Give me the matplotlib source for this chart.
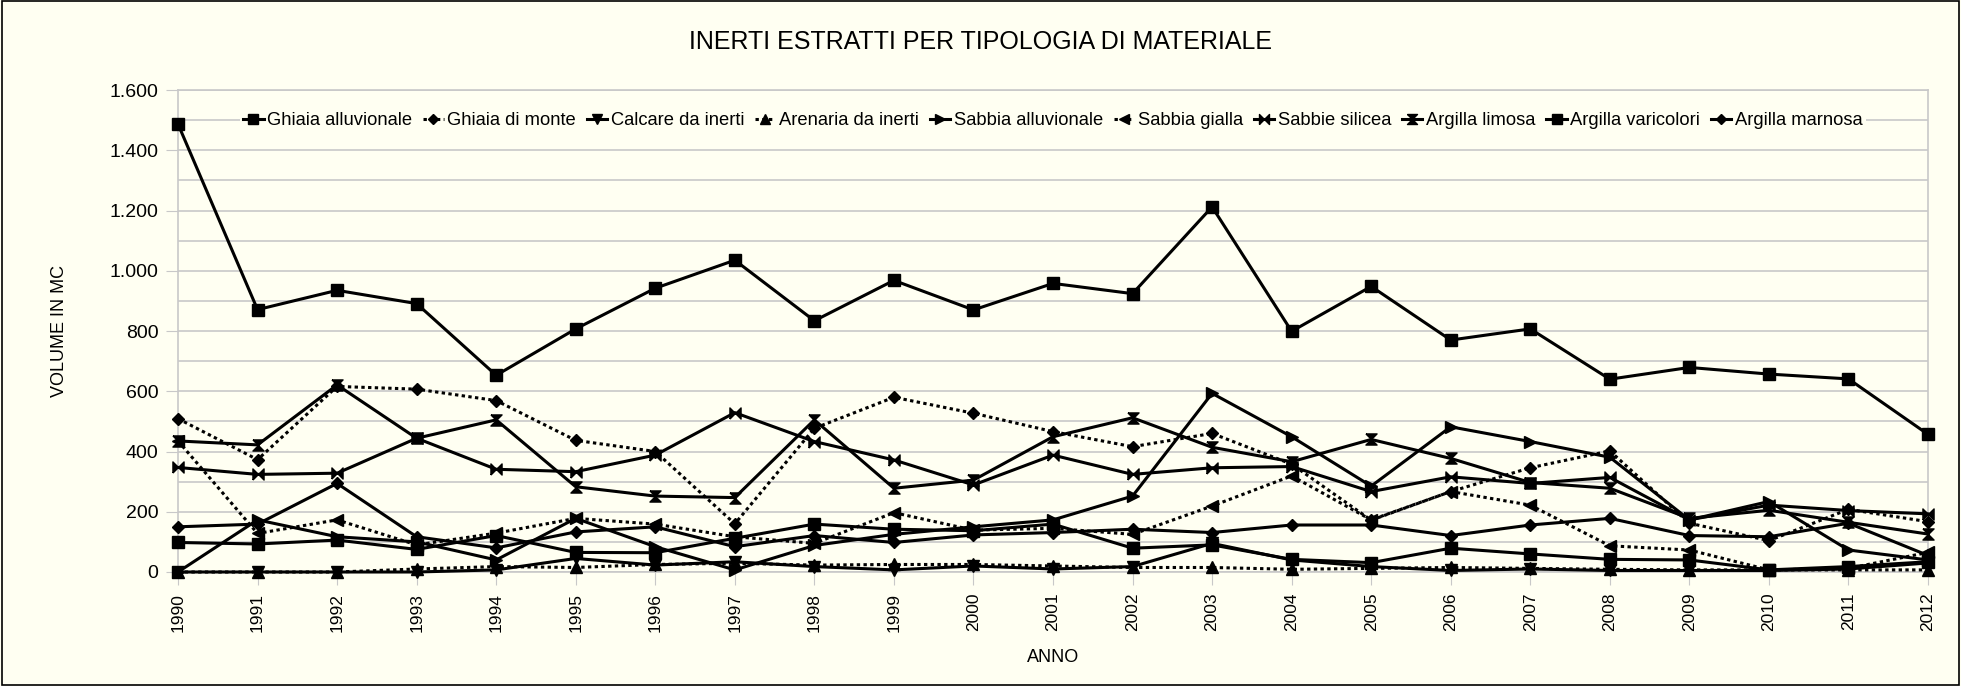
import matplotlib
matplotlib.use("Agg")
import matplotlib.pyplot as plt
from matplotlib.ticker import MultipleLocator, FuncFormatter
from matplotlib.patches import Rectangle

plt.rcParams['font.family'] = ['Liberation Sans', 'DejaVu Sans']

# ---------------------------------- data ----------------------------------
years = list(range(1990, 2013))

ghiaia_alluvionale = [1487, 871, 935, 891, 653, 807, 942, 1035, 834, 968, 870, 958,
                      924, 1212, 799, 948, 770, 807, 640, 679, 657, 641, 457]
ghiaia_monte = [509, 373, 616, 607, 569, 437, 400, 160, 477, 580, 527, 466,
                416, 460, 358, 172, 267, 346, 402, 162, 104, 208, 167]
calcare = [0, 0, 0, 0, 7, 45, 23, 34, 18, 7, 20, 10,
           18, 95, 40, 18, 5, 10, 5, 5, 5, 10, 30]
arenaria = [0, 0, 0, 10, 18, 15, 25, 29, 23, 25, 25, 20,
            15, 15, 9, 12, 15, 12, 9, 7, 7, 7, 7]
sabbia_alluvionale = [0, 173, 117, 100, 40, 178, 84, 7, 88, 125, 150, 173,
                      252, 593, 449, 285, 482, 433, 381, 173, 234, 73, 40]
sabbia_gialla = [435, 128, 173, 90, 129, 178, 159, 117, 95, 197, 139, 145,
                 125, 219, 319, 173, 267, 222, 87, 73, 7, 12, 65]
sabbie_silicea = [347, 324, 328, 444, 341, 333, 388, 529, 433, 372, 289, 388,
                  324, 346, 350, 267, 316, 294, 314, 173, 222, 204, 193]
argilla_limosa = [435, 422, 621, 444, 505, 283, 252, 247, 505, 278, 305, 449,
                  512, 414, 366, 440, 377, 297, 278, 178, 205, 165, 126]
argilla_varicolori = [98, 93, 106, 75, 121, 65, 64, 112, 159, 142, 137, 159,
                      79, 90, 42, 31, 79, 60, 42, 40, 7, 18, 34]
argilla_marnosa = [150, 159, 294, 117, 80, 133, 150, 84, 121, 98, 123, 131,
                   142, 131, 156, 156, 121, 156, 178, 121, 117, 162, 55]

labels = ["Ghiaia alluvionale", "Ghiaia di monte", "Calcare da inerti",
          "Arenaria da inerti", "Sabbia alluvionale", "Sabbia gialla",
          "Sabbie silicea", "Argilla limosa", "Argilla varicolori", "Argilla marnosa"]
series = [ghiaia_alluvionale, ghiaia_monte, calcare, arenaria, sabbia_alluvionale,
          sabbia_gialla, sabbie_silicea, argilla_limosa, argilla_varicolori, argilla_marnosa]

# custom markers: bow tie and hourglass
bowtie = [(-1, -1), (-1, 1), (1, -1), (1, 1), (-1, -1)]
hourglass = [(-1, 1), (1, 1), (-1, -1), (1, -1), (-1, 1)]

dotted = (0, (1.1, 1.1))
markers = ['s', 'D', 'v', '^', '>', '<', bowtie, hourglass, 's', 'D']
styles = ['-', dotted, '-', dotted, '-', dotted, '-', '-', '-', '-']
msizes = [8, 6, 8, 8, 8, 8, 8, 8, 8, 6]

BG = '#fffff2'
GRID = '#c8c8c8'

# ---------------------------------- plot ----------------------------------
fig = plt.figure(figsize=(19.61, 6.86), dpi=100, facecolor=BG)
ax = fig.add_axes([178 / 1961, 1 - 572 / 686, (1928 - 178) / 1961, (572 - 90) / 686])
ax.set_facecolor(BG)

for vals, lab, mk, ls, ms in zip(series, labels, markers, styles, msizes):
    ax.plot(years, vals, color='black', linestyle=ls, linewidth=2.2,
            marker=mk, markersize=ms, markerfacecolor='black',
            markeredgecolor='black', label=lab, zorder=3, clip_on=False)

ax.set_xlim(1990, 2012)
ax.set_ylim(0, 1600)
ax.set_xticks(years)
ax.set_xticklabels([str(y) for y in years], rotation=90, fontsize=12.5)
ax.yaxis.set_major_locator(MultipleLocator(200))
ax.yaxis.set_minor_locator(MultipleLocator(100))
ax.yaxis.set_major_formatter(FuncFormatter(lambda v, p: f"{int(v):,}".replace(',', '.')))
ax.tick_params(axis='y', which='major', labelsize=14, length=9, color=GRID, pad=5)
ax.tick_params(axis='y', which='minor', length=0)
ax.tick_params(axis='x', length=9, color=GRID, pad=6)
ax.grid(True, which='both', axis='y', color=GRID, linewidth=1.2, zorder=0)
ax.set_axisbelow(True)
for s in ax.spines.values():
    s.set_color(GRID)
    s.set_linewidth(1.2)

ax.set_ylabel("VOLUME IN MC", fontsize=13, labelpad=30)
ax.set_xlabel("ANNO", fontsize=13, labelpad=12)
fig.text(0.5, 1 - 42 / 686, "INERTI ESTRATTI PER TIPOLOGIA DI MATERIALE",
         ha='center', va='center', fontsize=18)

leg = ax.legend(loc='center', bbox_to_anchor=(0.5, 0.936), ncol=10, fontsize=13.2,
                handlelength=1.1, handletextpad=0.2, columnspacing=0.6,
                frameon=True, facecolor=BG, edgecolor='none', framealpha=1,
                borderpad=0.2, markerscale=0.9)

# outer frame of the chart
fig.patches.append(Rectangle((0.001, 0.001), 0.998, 0.997, transform=fig.transFigure,
                             fill=False, edgecolor='black', linewidth=1.2))

fig.savefig("out.png", dpi=100, facecolor=BG)
